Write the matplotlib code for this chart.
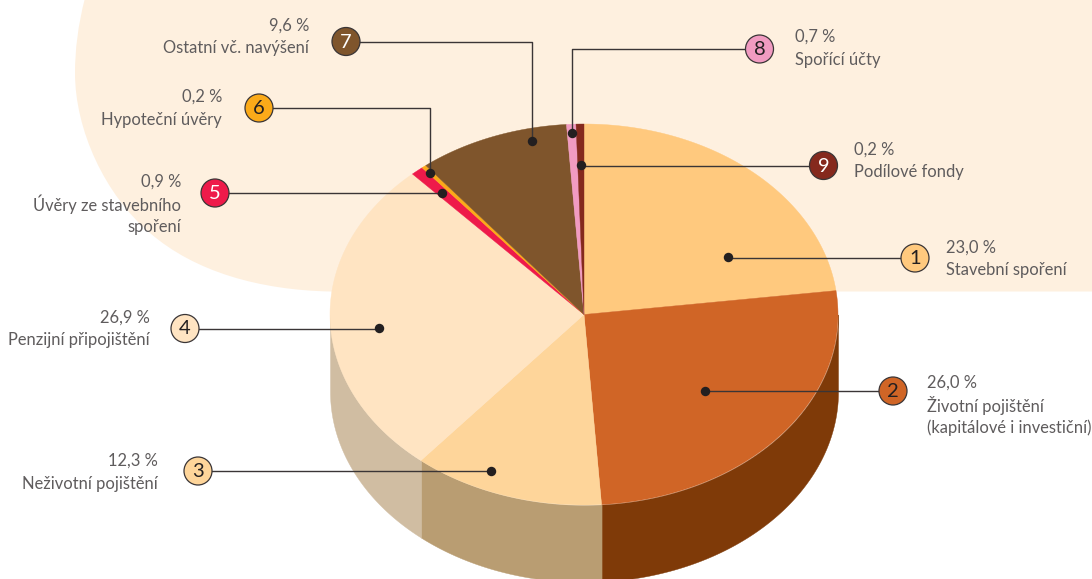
import matplotlib
matplotlib.use('Agg')
import matplotlib.pyplot as plt
import numpy as np
from matplotlib.patches import Circle, PathPatch
from matplotlib.path import Path

plt.rcParams['font.family'] = ['Lato', 'DejaVu Sans']

numbers = ['1', '2', '3', '4', '5', '6', '7', '8', '9']
percents = ['23,0 %', '26,0 %', '12,3 %', '26,9 %', '0,9 %', '0,2 %', '9,6 %', '0,7 %', '0,2 %']
names = ['Stavební spoření', 'Životní pojištění\n(kapitálové i investiční)', 'Neživotní pojištění',
         'Penzijní připojištění', 'Úvěry ze stavebního\nspoření', 'Hypoteční úvěry',
         'Ostatní vč. navýšení', 'Spořící účty', 'Podílové fondy']
# how wide the slices are really drawn in the picture (small ones are exaggerated)
drawn_share = [23.0, 25.9, 12.2, 27.1, 0.8, 0.3, 9.6, 0.6, 0.5]
colors = ['#FFC97E', '#D06526', '#FED59A', '#FFE4C2', '#EE1A4A', '#FBAA19', '#7F552C', '#F19BC1', '#85291D']
wall_colors = ['#7F3A08', '#7F3A08', '#B99D72', '#D0BDA2', '#D0BDA2', '#D0BDA2', '#D0BDA2', '#D0BDA2', '#D0BDA2']
number_colors = ['#231F20', '#231F20', '#231F20', '#231F20', 'white', '#231F20', 'white', '#231F20', 'white']

badge_x = [915, 893, 198, 185, 215, 259, 346, 759.5, 823.5]
badge_y = [258, 391, 471, 328.5, 193, 108, 41.5, 49, 165.5]
dot_x = [728, 705, 491, 379, 441.5, 429.5, 532, 571.5, 581]
dot_y = [257, 391, 471, 328, 193, 173, 141, 133, 165]
label_x = [946, 927, 158, 150, 181, 222, 309, 795, 854]
label_y = [248, 383, 461, 318, 182, 97, 26, 37, 150]
label_ha = ['left', 'left', 'right', 'right', 'right', 'right', 'right', 'left', 'left']

cx, cy, rx, ry, depth = 584, 314.5, 254, 190.5, 77
line_gap = 22.5

fig = plt.figure(figsize=(10.92, 5.79), dpi=100)
ax = fig.add_axes([0, 0, 1, 1])
ax.set_xlim(0, 1092)
ax.set_ylim(579, 0)
ax.axis('off')

# pale background blob behind the pie
blob = [(85, -2), (78, 25), (75, 50), (75, 73), (75, 130), (105, 195), (150, 233),
        (195, 272), (260, 290), (330, 291.5), (1092, 291.5), (1092, -2), (85, -2)]
codes = [Path.MOVETO] + [Path.CURVE4] * 9 + [Path.LINETO] * 3
ax.add_patch(PathPatch(Path(blob, codes), fc='#FEF0DF', ec='none', zorder=0))


def angle(share):
    return np.radians(share * 3.6)


shares = np.cumsum([0] + drawn_share)
shares = shares / shares[-1] * 100

# side wall, only the front half can be seen
for i in range(len(drawn_share)):
    start = max(shares[i], 25)
    end = min(shares[i + 1], 75)
    if end <= start:
        continue
    t = np.linspace(angle(start), angle(end), 120)
    x = cx + rx * np.sin(t)
    y = cy - ry * np.cos(t)
    ax.fill_between(x, y, y + depth, color=wall_colors[i], lw=0.3, zorder=1)

# top of the pie
for i in range(len(drawn_share)):
    t = np.linspace(angle(shares[i]), angle(shares[i + 1]), 120)
    x = np.r_[cx, cx + rx * np.sin(t)]
    y = np.r_[cy, cy - ry * np.cos(t)]
    ax.fill(x, y, fc=colors[i], ec=colors[i], lw=0.3, zorder=2)

# leaders, 6, 7 and 8 have an elbow
for i in range(9):
    xs = [badge_x[i], dot_x[i], dot_x[i]]
    ys = [badge_y[i], badge_y[i], dot_y[i]]
    ax.plot(xs, ys, color='#3A3536', lw=1, zorder=3)
    ax.plot(dot_x[i], dot_y[i], 'o', ms=6.8, color='#231F20', mew=0, zorder=4)
    ax.add_patch(Circle((badge_x[i], badge_y[i]), 14, fc=colors[i], ec='#3A3536', lw=0.9, zorder=5))
    ax.text(badge_x[i], badge_y[i] + 0.5, numbers[i], color=number_colors[i], fontsize=14.5, fontweight='normal',
            ha='center', va='center', zorder=6)
    lines = [percents[i]] + names[i].split('\n')
    for j, line in enumerate(lines):
        ax.text(label_x[i], label_y[i] + j * line_gap, line, color='#5F5C5D', fontsize=11.9, fontweight='normal',
                ha=label_ha[i], va='center', zorder=6)

fig.savefig('out.png', dpi=100)
